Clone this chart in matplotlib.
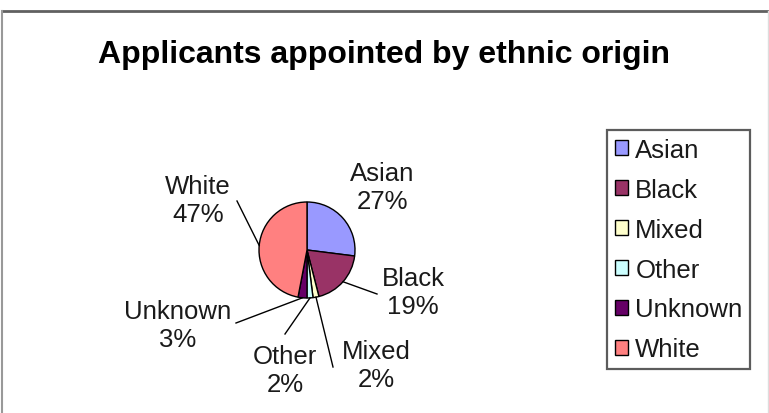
import numpy as np
import matplotlib.pyplot as plt
from matplotlib.lines import Line2D

# ethnic origin breakdown of appointed applicants (percent)
categories = ['Asian', 'Black', 'Mixed', 'Other', 'Unknown', 'White']
shares = [27, 19, 2, 2, 3, 47]
colors = ['#9999FF', '#993366', '#FFFFCC', '#CCFFFF', '#660066', '#FF8080']

# label text centres and leader line ends, in pixels from top-left
label_pos = {'Asian': (382, 188), 'Black': (413, 293), 'Mixed': (376, 366),
             'Other': (285, 371), 'Unknown': (178, 326), 'White': (198, 201)}
leader_end = {'Black': (377, 295), 'Mixed': (333, 368), 'Other': (285, 335),
              'Unknown': (236, 324), 'White': (237, 202)}

W, H = 769, 414
plt.rcParams['font.family'] = ['Liberation Sans', 'DejaVu Sans']

fig = plt.figure(figsize=(W / 100, H / 100), dpi=100)
ax = fig.add_axes([0, 0, 1, 1])

cx, cy, r = 307, H - 251, 48
wedges, _ = ax.pie(shares, colors=colors, startangle=90, counterclock=False,
                   center=(cx, cy), radius=r, frame=True,
                   wedgeprops=dict(edgecolor='black', linewidth=1))
ax.set_xlim(0, W)
ax.set_ylim(0, H)
ax.set_aspect('equal')
ax.axis('off')

for w, name, val in zip(wedges, categories, shares):
    mid = np.deg2rad((w.theta1 + w.theta2) / 2)
    lx, ly = label_pos[name]
    ax.text(lx, H - ly, f'{name}\n{val}%', ha='center', va='center',
            fontsize=18.5, color='#1a1a1a', linespacing=1.2)
    if name in leader_end:
        ex, ey = leader_end[name]
        px, py = cx + r * np.cos(mid), cy + r * np.sin(mid)
        ax.plot([px, ex], [py, H - ey], color='black', lw=1)

ax.text(384, H - 63.5, 'Applicants appointed by ethnic origin', ha='center',
        va='baseline', fontsize=23, fontweight='bold', color='black')

leg = ax.legend(wedges, categories, loc='upper left',
                bbox_to_anchor=(607 / W, 1 - 131 / H), borderaxespad=0,
                fontsize=18.5, frameon=True, fancybox=False,
                handlelength=0.5, handleheight=0.5, handletextpad=0.3,
                labelspacing=0.62, borderpad=0.3)
leg.get_frame().set_edgecolor('#333333')
leg.get_frame().set_linewidth(1.6)
for t in leg.get_texts():
    t.set_color('#1a1a1a')

# outer chart frame
fig.add_artist(Line2D([2 / W, 1], [1 - 12 / H, 1 - 12 / H], color='#606060', lw=2))
fig.add_artist(Line2D([2 / W, 2 / W], [0, 1 - 12 / H], color='#999999', lw=1.5))
fig.add_artist(Line2D([767.5 / W, 767.5 / W], [0, 1 - 12 / H], color='#dddddd', lw=1))

fig.savefig('out.png', dpi=100)
